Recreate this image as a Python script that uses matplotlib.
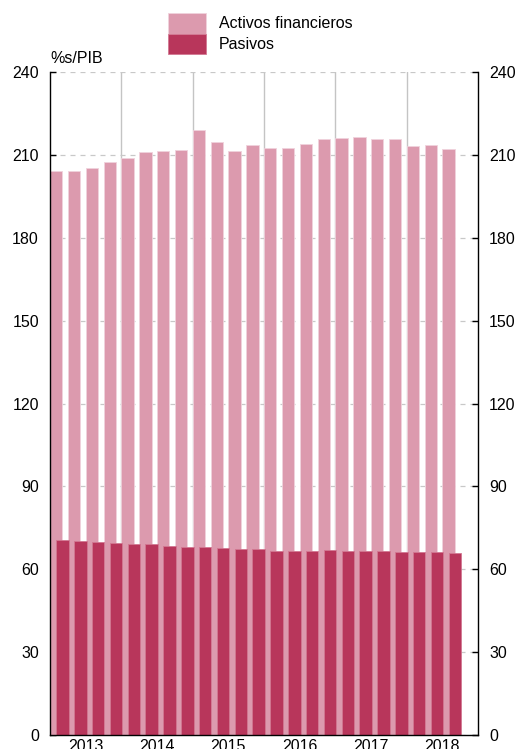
import numpy as np
import matplotlib.pyplot as plt
from matplotlib.patches import Patch

plt.rcParams['font.family'] = ['Liberation Sans', 'DejaVu Sans']

# quarterly data, 2013 Q1 - 2018 Q3 (% of GDP)
activos = [204.2, 204.2, 205.4, 207.6, 209.0, 211.2, 211.4, 211.9,
           219.2, 214.8, 211.6, 213.7, 212.5, 212.7, 214.2, 215.7,
           216.2, 216.5, 216.0, 215.7, 213.3, 213.7, 212.1]
pasivos = [70.6, 70.4, 69.8, 69.5, 69.1, 69.1, 68.6, 68.2,
           68.2, 67.7, 67.3, 67.3, 66.8, 66.8, 66.8, 67.0,
           66.8, 66.8, 66.5, 66.3, 66.2, 66.3, 66.0]
years = ['2013', '2014', '2015', '2016', '2017', '2018']
yticks = [0, 30, 60, 90, 120, 150, 180, 210, 240]

c_act = '#dc9aae'
c_pas = '#b8365b'
fs = 11.5

fig = plt.figure(figsize=(5.16, 7.49), dpi=100)
ax = fig.add_axes([50/516, 1 - 735/749, 428/516, (735 - 72.3)/749])

x = np.arange(len(activos))
ax.bar(x, activos, width=0.7, align='edge', color=c_act, edgecolor='#f0d2dc', linewidth=0.6)
ax.bar(x + 0.35, pasivos, width=0.7, align='edge', color=c_pas, edgecolor='#d27892', linewidth=0.6)

ax.set_xlim(0, 24)
ax.set_ylim(0, 240)
ax.set_yticks(yticks)
ax.set_axisbelow(True)

# year separators and labels
ax.set_xticks(np.arange(4, 24, 4))
ax.set_xticklabels([])
ax.set_xticks(np.arange(2, 24, 4), minor=True)
ax.set_xticklabels(years, minor=True)
ax.tick_params(axis='x', which='major', length=0)
ax.tick_params(axis='x', which='minor', length=0, pad=3, labelsize=fs)
ax.grid(axis='x', which='major', color='#c4c4c4', linewidth=1, linestyle='-')
ax.grid(axis='y', color='#c8c8c8', linewidth=0.9, linestyle=(0, (4, 4)))

ax.tick_params(axis='y', direction='in', left=True, right=True, labelleft=True,
               labelright=True, length=4, width=1, labelsize=fs, pad=8)

ax.spines['top'].set_visible(False)
for s in ['left', 'right', 'bottom']:
    ax.spines[s].set_linewidth(1)
    ax.spines[s].set_color('black')

fig.text(50/516, 1 - 63/749, '%s/PIB', fontsize=fs, ha='left', va='baseline')

handles = [Patch(facecolor=c_act, edgecolor='#f0d2dc', linewidth=0.6),
           Patch(facecolor=c_pas, edgecolor='#d27892', linewidth=0.6)]
fig.legend(handles, ['Activos financieros', 'Pasivos'], loc='upper left',
           bbox_to_anchor=(168/516, 1 - 13/749), frameon=False, fontsize=fs,
           handlelength=2.4, handleheight=1.6, labelspacing=0.0, handletextpad=0.8,
           borderpad=0, borderaxespad=0)

fig.savefig('out.png', dpi=100)
